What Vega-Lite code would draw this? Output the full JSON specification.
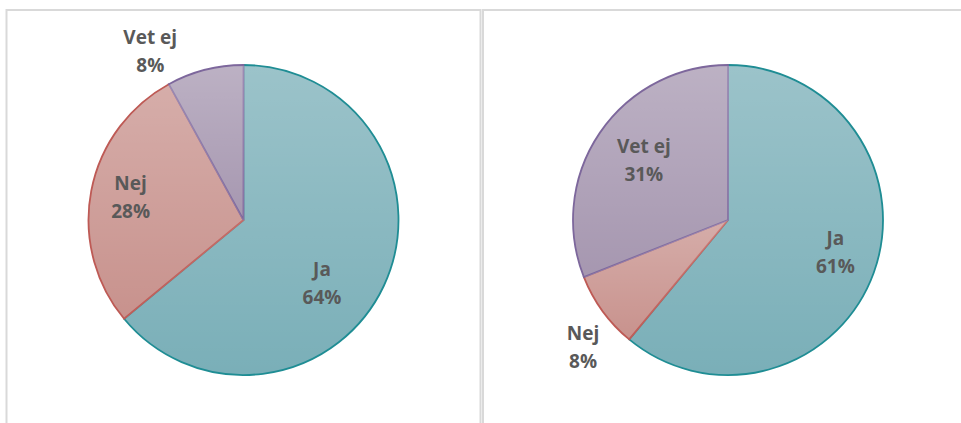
{
  "$schema": "https://vega.github.io/schema/vega-lite/v6.json",
  "padding": {"left": 5.5, "top": 9, "right": 0, "bottom": 0},
  "background": "white",
  "spacing": 0.5,
  "config": {
    "view": {"stroke": "#D9D9D9", "strokeWidth": 2},
    "style": {"view": {"stroke": "#D9D9D9", "strokeWidth": 2}, "cell": {"stroke": "#D9D9D9", "strokeWidth": 2}},
    "text": {"font": "Open Sans", "fontWeight": "bold", "fontSize": 19, "color": "#595959", "lineBreak": "\n", "lineHeight": 28, "align": "center", "baseline": "middle"}
  },
  "datasets": {
    "left": [
      {"svar": "Ja", "pct": 64, "ord": 1},
      {"svar": "Nej", "pct": 28, "ord": 2},
      {"svar": "Vet ej", "pct": 8, "ord": 3}
    ],
    "right": [
      {"svar": "Ja", "pct": 61, "ord": 1},
      {"svar": "Nej", "pct": 8, "ord": 2},
      {"svar": "Vet ej", "pct": 31, "ord": 3}
    ]
  },
  "resolve": {"scale": {"theta": "independent", "fill": "independent", "stroke": "independent"}},
  "hconcat": [
    {
      "width": 474,
      "height": 420,
      "view": {"stroke": "#D9D9D9", "strokeWidth": 2},
      "data": {"name": "left"},
      "transform": [{"calculate": "datum.svar + '\\n' + datum.pct + '%'", "as": "label"}],
      "encoding": {
        "theta": {"field": "pct", "type": "quantitative", "stack": true, "scale": {"domain": [0, 100]}},
        "order": {"field": "ord", "type": "quantitative"}
      },
      "layer": [
        {
          "mark": {"type": "arc", "radius": 155, "strokeWidth": 1.8},
          "encoding": {
            "fill": {"field": "svar", "type": "nominal", "legend": null, "scale": {"domain": ["Ja", "Nej", "Vet ej"], "range": ["#7AAFB8", "#C8928D", "#A697B0"]}},
            "stroke": {"field": "svar", "type": "nominal", "legend": null, "scale": {"domain": ["Ja", "Nej", "Vet ej"], "range": ["#1F8D94", "#BE5A55", "#7D679C"]}}
          }
        },
        {
          "mark": {"type": "arc", "radius": 154, "strokeWidth": 0, "fill": {"gradient": "linear", "x1": 0, "y1": 0, "x2": 0, "y2": 1, "stops": [{"offset": 0, "color": "rgba(255,255,255,0.25)"}, {"offset": 1, "color": "rgba(255,255,255,0)"}]}},
          "encoding": {}
        },
        {
          "mark": {"type": "text", "radius": 100, "dx": -12, "dy": 7},
          "encoding": {
            "text": {"condition": {"test": "datum.svar === 'Ja'", "field": "label"}, "value": ""}
          }
        },
        {
          "mark": {"type": "text", "radius": 117, "dx": 2, "dy": -14},
          "encoding": {
            "text": {"condition": {"test": "datum.svar === 'Nej'", "field": "label"}, "value": ""}
          }
        },
        {
          "mark": {"type": "text", "radius": 194, "dx": -45, "dy": 6},
          "encoding": {
            "text": {"condition": {"test": "datum.svar === 'Vet ej'", "field": "label"}, "value": ""}
          }
        }
      ]
    },
    {
      "width": 490,
      "height": 420,
      "view": {"stroke": "#D9D9D9", "strokeWidth": 2},
      "data": {"name": "right"},
      "transform": [{"calculate": "datum.svar + '\\n' + datum.pct + '%'", "as": "label"}],
      "encoding": {
        "theta": {"field": "pct", "type": "quantitative", "stack": true, "scale": {"domain": [0, 100]}},
        "order": {"field": "ord", "type": "quantitative"}
      },
      "layer": [
        {
          "mark": {"type": "arc", "radius": 155, "strokeWidth": 1.8},
          "encoding": {
            "fill": {"field": "svar", "type": "nominal", "legend": null, "scale": {"domain": ["Ja", "Nej", "Vet ej"], "range": ["#7AAFB8", "#C8928D", "#A697B0"]}},
            "stroke": {"field": "svar", "type": "nominal", "legend": null, "scale": {"domain": ["Ja", "Nej", "Vet ej"], "range": ["#1F8D94", "#BE5A55", "#7D679C"]}}
          }
        },
        {
          "mark": {"type": "arc", "radius": 154, "strokeWidth": 0, "fill": {"gradient": "linear", "x1": 0, "y1": 0, "x2": 0, "y2": 1, "stops": [{"offset": 0, "color": "rgba(255,255,255,0.25)"}, {"offset": 1, "color": "rgba(255,255,255,0)"}]}},
          "encoding": {}
        },
        {
          "mark": {"type": "text", "radius": 112, "dx": 2, "dy": -19},
          "encoding": {
            "text": {"condition": {"test": "datum.svar === 'Ja'", "field": "label"}, "value": ""}
          }
        },
        {
          "mark": {"type": "text", "radius": 194, "dx": 12, "dy": 0},
          "encoding": {
            "text": {"condition": {"test": "datum.svar === 'Nej'", "field": "label"}, "value": ""}
          }
        },
        {
          "mark": {"type": "text", "radius": 103, "dx": 1, "dy": -15},
          "encoding": {
            "text": {"condition": {"test": "datum.svar === 'Vet ej'", "field": "label"}, "value": ""}
          }
        }
      ]
    }
  ]
}
